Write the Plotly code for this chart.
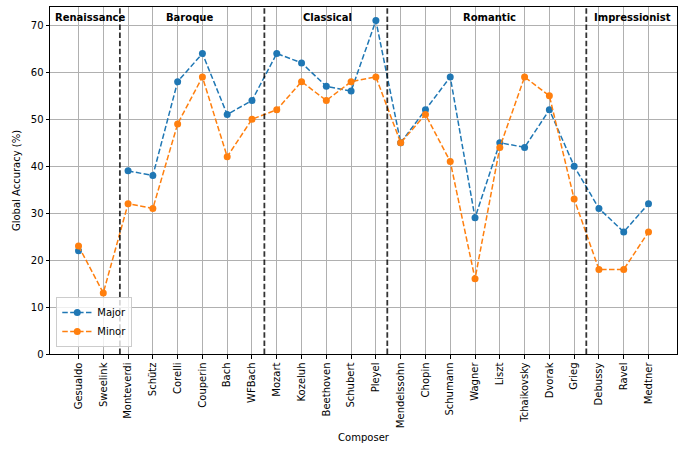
import plotly.graph_objects as go

composers = ["Gesualdo", "Sweelink", "Monteverdi", "Schütz", "Corelli", "Couperin",
             "Bach", "WFBach", "Mozart", "Kozeluh", "Beethoven", "Schubert", "Pleyel",
             "Mendelssohn", "Chopin", "Schumann", "Wagner", "Liszt", "Tchaikovsky",
             "Dvorak", "Grieg", "Debussy", "Ravel", "Medtner"]

major = [22, None, 39, 38, 58, 64, 51, 54, 64, 62, 57, 56, 71,
         45, 52, 59, 29, 45, 44, 52, 40, 31, 26, 32]
minor = [23, 13, 32, 31, 49, 59, 42, 50, 52, 58, 54, 58, 59,
         45, 51, 41, 16, 44, 59, 55, 33, 18, 18, 26]

periods = ["Renaissance", "Baroque", "Classical", "Romantic", "Impressionist"]
period_label_x = [0.45, 4.47, 10.03, 16.6, 22.37]
period_boundaries = [1.67, 7.5, 12.46, 20.49]

FONT = "DejaVu Sans"
idx = list(range(len(composers)))

fig = go.Figure()
fig.add_trace(go.Scatter(
    x=idx, y=major, name="Major", mode="lines+markers",
    line=dict(color="#1f77b4", width=1.5, dash="5.5px,2.4px"),
    marker=dict(color="#1f77b4", size=7),
    connectgaps=False,
))
fig.add_trace(go.Scatter(
    x=idx, y=minor, name="Minor", mode="lines+markers",
    line=dict(color="#ff7f0e", width=1.5, dash="5.5px,2.4px"),
    marker=dict(color="#ff7f0e", size=7),
))

for b in period_boundaries:
    fig.add_shape(type="line", xref="x", yref="paper", x0=b, x1=b, y0=0, y1=1,
                  line=dict(color="rgba(0,0,0,0.8)", width=1.8, dash="5.5px,2.6px"),
                  layer="above")

for name, px in zip(periods, period_label_x):
    fig.add_annotation(x=px, y=0.971, xref="x", yref="paper", text=f"<b>{name}</b>",
                       showarrow=False, font=dict(family=FONT, size=10, color="black"),
                       xanchor="center", yanchor="middle")

fig.update_layout(
    width=683, height=451,
    margin=dict(l=50, r=6, t=7, b=97),
    plot_bgcolor="white", paper_bgcolor="white",
    font=dict(family=FONT, size=10, color="black"),
    showlegend=True,
    legend=dict(x=0.01, y=0.02, xanchor="left", yanchor="bottom",
                bgcolor="rgba(255,255,255,0.8)", bordercolor="#cccccc", borderwidth=1,
                font=dict(family=FONT, size=10), itemwidth=30, tracegroupgap=0),
)

fig.update_xaxes(
    range=[-1.15, 24.15], tickmode="array", tickvals=idx, ticktext=composers,
    tickangle=-90, showgrid=True, gridcolor="#b0b0b0", gridwidth=0.8,
    showline=True, linecolor="black", linewidth=1, mirror=True,
    ticks="outside", ticklen=3.5, tickcolor="black", zeroline=False,
    title=dict(text="Composer", font=dict(family=FONT, size=10), standoff=6),
)
fig.update_yaxes(
    range=[0, 73.9], tickvals=[0, 10, 20, 30, 40, 50, 60, 70],
    showgrid=True, gridcolor="#b0b0b0", gridwidth=0.8,
    showline=True, linecolor="black", linewidth=1, mirror=True,
    ticks="outside", ticklen=3.5, tickcolor="black", zeroline=False,
    title=dict(text="Global Accuracy (%)", font=dict(family=FONT, size=10), standoff=8),
)

fig.write_html("out.html")
